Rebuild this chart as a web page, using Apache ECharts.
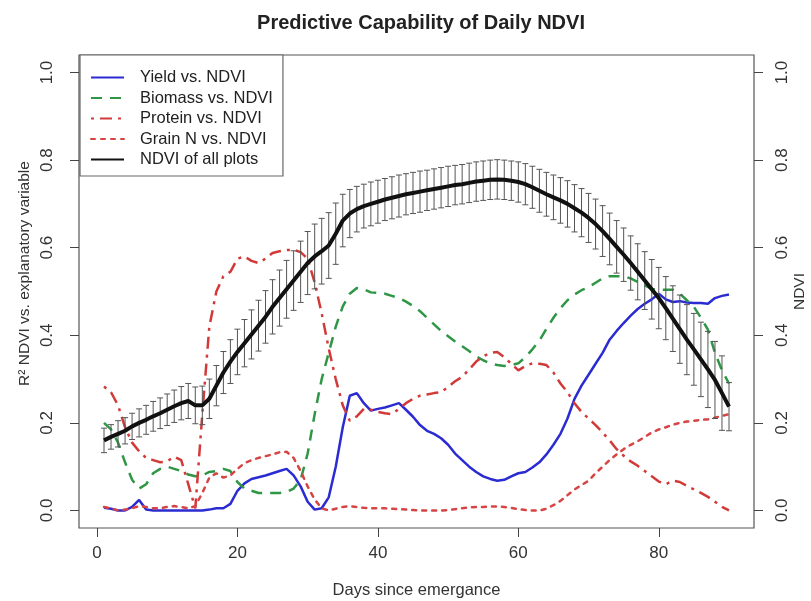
<!DOCTYPE html>
<html><head><meta charset="utf-8">
<script src="https://cdn.jsdelivr.net/npm/echarts@6/dist/echarts.min.js"></script>
<style>html,body{margin:0;padding:0;background:#fff}#c{width:811px;height:601px}</style>
</head><body><div id="c"></div>
<script>
const days = [1,2,3,4,5,6,7,8,9,10,11,12,13,14,15,16,17,18,19,20,21,22,23,24,25,26,27,28,29,30,
31,32,33,34,35,36,37,38,39,40,41,42,43,44,45,46,47,48,49,50,51,52,53,54,55,56,57,58,59,60,
61,62,63,64,65,66,67,68,69,70,71,72,73,74,75,76,77,78,79,80,81,82,83,84,85,86,87,88,89,90];

const yieldR2 = [0.006,0.004,0.0,0.0,0.008,0.024,0.002,0.0,0.0,0.0,0.0,0.0,0.0,0.0,0.0,0.002,0.005,0.005,0.015,0.045,
0.062,0.072,0.076,0.08,0.085,0.09,0.095,0.08,0.055,0.02,0.002,0.005,0.03,0.10,0.19,0.262,0.268,0.245,0.228,0.232,
0.235,0.24,0.245,0.23,0.214,0.195,0.182,0.175,0.165,0.15,0.13,0.115,0.10,0.088,0.078,0.072,0.068,0.07,0.078,0.085,
0.088,0.098,0.11,0.128,0.15,0.175,0.21,0.255,0.285,0.31,0.335,0.36,0.39,0.41,0.428,0.445,0.46,0.472,0.482,0.495,
0.482,0.476,0.478,0.475,0.474,0.474,0.472,0.485,0.49,0.493];

const biomassR2 = [0.20,0.185,0.155,0.11,0.07,0.05,0.06,0.085,0.095,0.10,0.095,0.09,0.082,0.078,0.08,0.088,0.09,0.095,0.09,0.065,
0.05,0.045,0.04,0.04,0.04,0.04,0.042,0.05,0.07,0.13,0.22,0.30,0.36,0.42,0.466,0.495,0.508,0.505,0.498,0.497,
0.495,0.49,0.485,0.477,0.467,0.455,0.44,0.425,0.41,0.398,0.386,0.375,0.364,0.352,0.343,0.336,0.332,0.33,0.332,0.336,
0.35,0.368,0.388,0.415,0.44,0.462,0.48,0.493,0.503,0.51,0.52,0.53,0.535,0.535,0.534,0.53,0.522,0.514,0.506,0.504,
0.504,0.504,0.495,0.48,0.465,0.44,0.413,0.36,0.32,0.29];

const proteinR2 = [0.283,0.27,0.24,0.19,0.155,0.135,0.12,0.115,0.11,0.112,0.123,0.115,0.06,0.005,0.22,0.42,0.50,0.535,0.545,0.575,
0.58,0.57,0.565,0.575,0.588,0.592,0.595,0.595,0.59,0.575,0.52,0.45,0.37,0.30,0.24,0.205,0.215,0.232,0.23,0.225,
0.222,0.22,0.232,0.245,0.255,0.262,0.265,0.268,0.27,0.282,0.295,0.305,0.322,0.34,0.352,0.36,0.362,0.35,0.335,0.32,
0.33,0.336,0.335,0.332,0.315,0.29,0.27,0.245,0.225,0.21,0.195,0.178,0.16,0.14,0.125,0.112,0.102,0.09,0.078,0.066,
0.06,0.068,0.065,0.056,0.048,0.04,0.031,0.02,0.008,0.0];

const grainNR2 = [0.008,0.005,0.0,0.002,0.005,0.01,0.008,0.005,0.005,0.008,0.01,0.008,0.005,0.01,0.04,0.075,0.085,0.075,0.08,0.095,
0.108,0.115,0.12,0.124,0.128,0.133,0.134,0.12,0.09,0.055,0.025,0.005,0.0,0.004,0.008,0.01,0.008,0.006,0.005,0.005,
0.005,0.004,0.003,0.002,0.001,0.0,0.0,0.0,0.0,0.001,0.003,0.005,0.007,0.008,0.008,0.009,0.009,0.008,0.006,0.003,
0.001,0.0,0.0,0.004,0.012,0.022,0.035,0.048,0.058,0.068,0.085,0.10,0.115,0.128,0.14,0.15,0.158,0.168,0.178,0.185,
0.19,0.196,0.20,0.203,0.205,0.207,0.208,0.212,0.216,0.22];

const ndviMean = [0.160,0.168,0.175,0.182,0.192,0.200,0.207,0.215,0.222,0.230,0.238,0.245,0.250,0.240,0.240,0.255,0.285,0.315,0.340,0.362,
0.382,0.402,0.422,0.442,0.465,0.485,0.505,0.525,0.545,0.565,0.580,0.592,0.605,0.632,0.662,0.678,0.688,0.695,0.700,0.705,
0.710,0.714,0.718,0.722,0.725,0.728,0.731,0.734,0.737,0.740,0.743,0.745,0.748,0.751,0.753,0.755,0.756,0.755,0.753,0.750,
0.745,0.738,0.730,0.722,0.715,0.708,0.700,0.690,0.680,0.668,0.654,0.638,0.620,0.602,0.584,0.565,0.545,0.525,0.505,0.485,
0.462,0.438,0.414,0.39,0.368,0.345,0.322,0.298,0.268,0.237];

const ndviErr = [0.028,0.028,0.03,0.03,0.03,0.032,0.033,0.034,0.035,0.036,0.037,0.038,0.04,0.042,0.044,0.045,0.046,0.048,0.05,0.052,
0.054,0.056,0.058,0.06,0.062,0.064,0.066,0.068,0.07,0.072,0.074,0.075,0.075,0.07,0.06,0.055,0.052,0.05,0.05,0.049,
0.048,0.048,0.048,0.047,0.047,0.047,0.046,0.046,0.046,0.046,0.045,0.045,0.045,0.045,0.045,0.045,0.045,0.045,0.045,0.046,
0.047,0.048,0.049,0.05,0.051,0.052,0.053,0.054,0.055,0.056,0.057,0.058,0.059,0.06,0.061,0.062,0.064,0.066,0.068,0.07,
0.072,0.075,0.078,0.08,0.082,0.085,0.087,0.088,0.085,0.055];

const xTicks = [0, 20, 40, 60, 80];
const yTicks = [0, 0.2, 0.4, 0.6, 0.8, 1.0];
const seriesNames = ['Yield vs. NDVI', 'Biomass vs. NDVI', 'Protein vs. NDVI', 'Grain N vs. NDVI', 'NDVI of all plots'];

const FONT = "'Liberation Sans', Arial, Helvetica, sans-serif";
const pair = arr => days.map((d, i) => [d, arr[i]]);
const errData = days.map((d, i) => [d, ndviMean[i] - ndviErr[i], ndviMean[i] + ndviErr[i]]);

function yAxisDef(pos, name, gap, margin, namePad) {
  return {
    type: 'value', position: pos, min: -0.04, max: 1.04,
    axisLine: { show: false, onZero: false },
    axisTick: { show: true, length: 9, customValues: yTicks, lineStyle: { color: '#444', width: 1 } },
    axisLabel: { customValues: yTicks, rotate: 90, margin: margin, fontSize: 17, color: '#333', fontFamily: FONT,
      formatter: v => Number(v).toFixed(1) },
    splitLine: { show: false },
    name: name, nameLocation: 'middle', nameGap: gap, nameMoveOverlap: false,
    nameTextStyle: { fontSize: 15.5, color: '#333', fontFamily: FONT, padding: namePad }
  };
}

const chart = echarts.init(document.getElementById('c'), null, { renderer: 'canvas' });
chart.setOption({
  animation: false,
  backgroundColor: '#fff',
  textStyle: { fontFamily: FONT },
  title: {
    text: 'Predictive Capability of Daily NDVI',
    left: 416, top: 8, textAlign: 'center',
    textStyle: { fontSize: 20, fontWeight: 'bold', color: '#222', fontFamily: FONT }
  },
  grid: { left: 79, right: 57, top: 55, bottom: 73, show: true, borderColor: '#555', borderWidth: 1.2,
    backgroundColor: 'transparent', containLabel: false, outerBoundsMode: 'none' },
  legend: {
    orient: 'vertical', left: 80, top: 55,
    padding: [14, 10, 8, 10],
    itemWidth: 33, itemHeight: 14, itemGap: 3.5,
    borderColor: '#666', borderWidth: 1.2, backgroundColor: '#fff',
    selectedMode: false,
    itemStyle: { opacity: 0 },
    textStyle: { fontSize: 16.5, color: '#222', fontFamily: FONT, padding: [0, 0, 0, 11] },
    data: seriesNames
  },
  xAxis: {
    type: 'value', min: -2.56, max: 93.56,
    axisLine: { show: false, onZero: false },
    axisTick: { show: true, length: 9, customValues: xTicks, lineStyle: { color: '#444', width: 1 } },
    axisLabel: { customValues: xTicks, margin: 17, fontSize: 17, color: '#333', fontFamily: FONT },
    splitLine: { show: false },
    name: 'Days since emergance', nameLocation: 'middle', nameGap: 54, nameMoveOverlap: false,
    nameTextStyle: { fontSize: 16.5, color: '#333', fontFamily: FONT }
  },
  yAxis: [
    yAxisDef('left', 'R\u00B2 NDVI vs. explanatory variable', 46, 23, [0, 0, 0, 36]),
    yAxisDef('right', 'NDVI', 38, 20, 0)
  ],
  series: [
    { name: seriesNames[0], type: 'line', data: pair(yieldR2), symbol: 'none', z: 3,
      lineStyle: { color: '#2b2bd2', width: 2.5 }, itemStyle: { color: '#2b2bd2' } },
    { name: seriesNames[1], type: 'line', data: pair(biomassR2), symbol: 'none', z: 3,
      lineStyle: { color: '#2e9645', width: 2.5, type: [11, 8] }, itemStyle: { color: '#2e9645' } },
    { name: seriesNames[2], type: 'line', data: pair(proteinR2), symbol: 'none', z: 3,
      lineStyle: { color: '#d23a3a', width: 2.5, type: [3, 6, 12, 6] }, itemStyle: { color: '#d23a3a' } },
    { name: seriesNames[3], type: 'line', data: pair(grainNR2), symbol: 'none', z: 3,
      lineStyle: { color: '#d64444', width: 2.5, type: [4, 6], cap: 'round' }, itemStyle: { color: '#d64444' } },
    { name: 'errbars', type: 'custom', yAxisIndex: 1, data: errData, z: 4, silent: true,
      renderItem: function (params, api) {
        const x = api.value(0);
        const p1 = api.coord([x, api.value(1)]);
        const p2 = api.coord([x, api.value(2)]);
        const w = 3;
        const st = { stroke: '#555', lineWidth: 1 };
        return { type: 'group', children: [
          { type: 'line', shape: { x1: p1[0], y1: p1[1], x2: p2[0], y2: p2[1] }, style: st },
          { type: 'line', shape: { x1: p1[0] - w, y1: p1[1], x2: p1[0] + w, y2: p1[1] }, style: st },
          { type: 'line', shape: { x1: p2[0] - w, y1: p2[1], x2: p2[0] + w, y2: p2[1] }, style: st }
        ] };
      }
    },
    { name: seriesNames[4], type: 'line', yAxisIndex: 1, data: pair(ndviMean), symbol: 'none', z: 5,
      lineStyle: { color: '#111', width: 4 }, itemStyle: { color: '#111' } }
  ]
});
</script></body></html>
